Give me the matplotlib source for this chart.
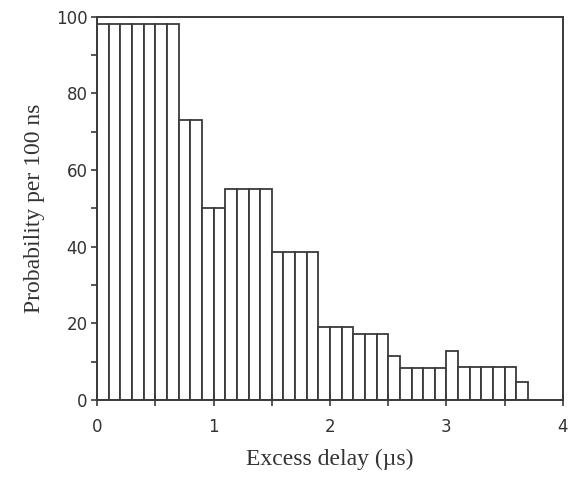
import numpy as np
import matplotlib
matplotlib.use("Agg")
import matplotlib.pyplot as plt
from matplotlib.ticker import MultipleLocator

# histogram of excess delay, bins of 0.1 us
bin_left = [round(0.1 * i, 1) for i in range(37)]
probability = [98, 98, 98, 98, 98, 98, 98,
               73, 73,
               50, 50,
               55, 55, 55, 55,
               38.5, 38.5, 38.5, 38.5,
               19, 19, 19,
               17.3, 17.3, 17.3,
               11.5,
               8.2, 8.2, 8.2, 8.2,
               12.8,
               8.5, 8.5, 8.5, 8.5, 8.5,
               4.7]
bin_width = 0.1

x_ticks = [0, 1, 2, 3, 4]
y_ticks = [0, 20, 40, 60, 80, 100]

edge = "#3a3a3a"

fig = plt.figure(figsize=(5.75, 4.8), dpi=100)
ax = fig.add_axes([0.169, 0.167, 0.81, 0.798])

ax.bar(bin_left, probability, width=bin_width, align="edge",
       color="white", edgecolor=edge, linewidth=1.3)

ax.set_xlim(0, 4)
ax.set_ylim(0, 100)
ax.set_xticks(x_ticks)
ax.set_yticks(y_ticks)
ax.xaxis.set_minor_locator(MultipleLocator(0.5))
ax.yaxis.set_minor_locator(MultipleLocator(10))

ax.tick_params(axis="x", which="both", direction="inout", length=8,
               width=1.2, color=edge, labelsize=12, pad=9, labelcolor="#333333")
ax.tick_params(axis="y", which="both", direction="out", length=4,
               width=1.2, color=edge, labelsize=12, pad=3, labelcolor="#333333")

for s in ax.spines.values():
    s.set_linewidth(1.4)
    s.set_color(edge)

ax.set_xlabel("Excess delay (\u00b5s)", family="Liberation Serif", fontsize=17,
              color="#333333", labelpad=9)
ax.set_ylabel("Probability per 100 ns", family="Liberation Serif", fontsize=17,
              color="#333333", labelpad=8)

fig.savefig("out.png", dpi=100)
